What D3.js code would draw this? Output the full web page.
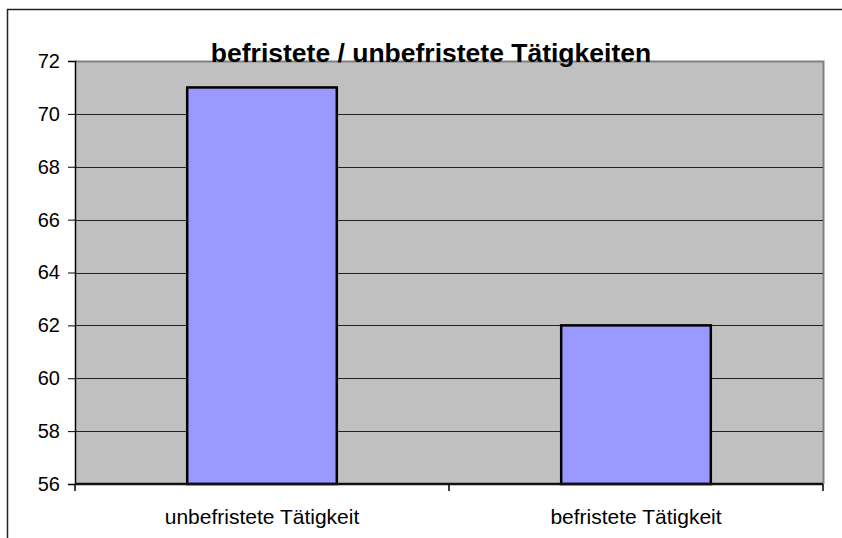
<!DOCTYPE html>
<html>
<head>
<meta charset="utf-8">
<script src="https://cdn.jsdelivr.net/npm/d3@7"></script>
<style>
  body { margin: 0; background: #fff; }
  text { font-family: Arial, "Liberation Sans", sans-serif; }
</style>
</head>
<body>
<svg id="chart" width="842" height="538"></svg>
<script>
var categories = ["unbefristete Tätigkeit", "befristete Tätigkeit"];
var values = [71, 62];
var yTicks = [56, 58, 60, 62, 64, 66, 68, 70, 72];
var title = "befristete / unbefristete Tätigkeiten";

var margin = {top: 61, right: 19, bottom: 54, left: 75};
var width = 842 - margin.left - margin.right;
var height = 538 - margin.top - margin.bottom;

var root = d3.select("#chart");

// outer frame (only top and left visible)
root.append("path")
  .attr("d", "M7.5,538V9.5H842")
  .attr("fill", "none")
  .attr("stroke", "#222")
  .attr("stroke-width", 1.5);

var svg = root.append("g")
  .attr("transform", "translate(" + margin.left + "," + margin.top + ")");

var x = d3.scaleBand()
  .domain(categories)
  .range([0, width])
  .paddingInner(0.6)
  .paddingOuter(0.3);

var y = d3.scaleLinear()
  .domain([56, 72])
  .range([height, 0]);

// plot area
svg.append("rect")
  .attr("width", width)
  .attr("height", height)
  .attr("fill", "#c0c0c0");

svg.append("path")
  .attr("d", "M0,0.5H" + (width + 0.5) + "V" + height)
  .attr("fill", "none")
  .attr("stroke", "#808080")
  .attr("stroke-width", 2);

// gridlines
svg.selectAll(".grid")
  .data(yTicks.slice(1, -1))
  .enter()
  .append("line")
  .attr("class", "grid")
  .attr("x1", 0)
  .attr("x2", width)
  .attr("y1", function(d) { return Math.round(y(d)) + 0.5; })
  .attr("y2", function(d) { return Math.round(y(d)) + 0.5; })
  .attr("stroke", "#222")
  .attr("stroke-width", 1);

// bars
svg.selectAll(".bar")
  .data(values)
  .enter()
  .append("rect")
  .attr("class", "bar")
  .attr("x", function(d, i) { return x(categories[i]); })
  .attr("y", function(d) { return y(d); })
  .attr("width", x.bandwidth())
  .attr("height", function(d) { return height - y(d); })
  .attr("fill", "#9999ff")
  .attr("stroke", "#000")
  .attr("stroke-width", 2.5);

// y axis
var yAxis = svg.append("g")
  .call(d3.axisLeft(y).tickValues(yTicks).tickSize(7).tickPadding(8).tickFormat(d3.format("d")));
yAxis.select(".domain").attr("stroke", "#000").attr("stroke-width", 1.5);
yAxis.selectAll("line").attr("stroke", "#000");
yAxis.selectAll("text")
  .attr("font-size", 20)
  .attr("fill", "#000");

// x axis
var xAxis = svg.append("g")
  .attr("transform", "translate(0," + height + ")");
xAxis.append("line")
  .attr("x1", 0).attr("x2", width)
  .attr("stroke", "#111").attr("stroke-width", 2.5);
var xEdges = [0, width / 2, width];
xAxis.selectAll(".xtick")
  .data(xEdges)
  .enter()
  .append("line")
  .attr("class", "xtick")
  .attr("x1", function(d) { return d; })
  .attr("x2", function(d) { return d; })
  .attr("y1", 0)
  .attr("y2", 7)
  .attr("stroke", "#000")
  .attr("stroke-width", 1.5);
xAxis.selectAll(".xlabel")
  .data(categories)
  .enter()
  .append("text")
  .attr("class", "xlabel")
  .attr("x", function(d) { return x(d) + x.bandwidth() / 2; })
  .attr("y", 40)
  .attr("text-anchor", "middle")
  .attr("font-size", 21)
  .attr("fill", "#000")
  .text(function(d) { return d; });

// title
root.append("text")
  .attr("x", 431)
  .attr("y", 62)
  .attr("text-anchor", "middle")
  .attr("font-size", 26.5)
  .attr("font-weight", "bold")
  .attr("fill", "#000")
  .text(title);
</script>
</body>
</html>
